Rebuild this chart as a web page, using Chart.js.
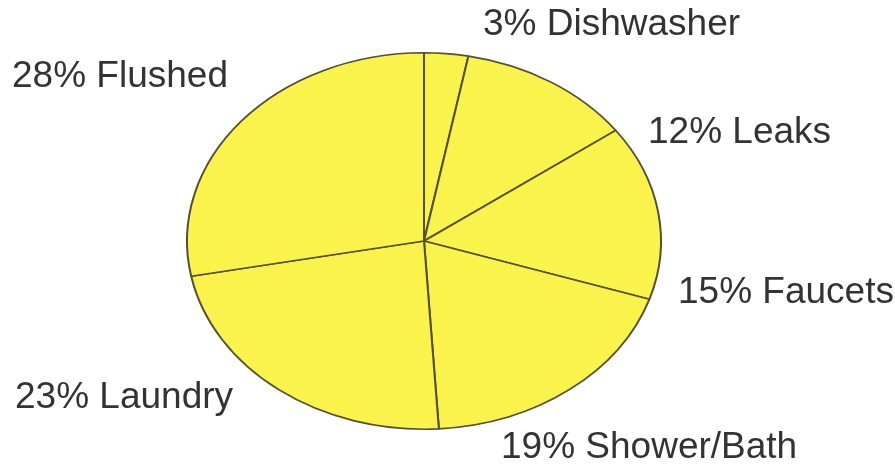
<!DOCTYPE html>
<html>
<head>
<meta charset="utf-8">
<script src="https://cdn.jsdelivr.net/npm/chart.js@4"></script>
<style>
  html, body { margin: 0; padding: 0; background: #fff; }
  canvas { display: block; }
</style>
</head>
<body>
<canvas id="waterChart" width="895" height="465"></canvas>
<script>
// water use breakdown, clockwise from the top
const categories = ["Dishwasher", "Leaks", "Faucets", "Shower/Bath", "Laundry", "Flushed"];
const percents = [3, 12, 15, 19, 23, 28];

// where each label sits (left edge, vertical middle)
const labelSpots = [[483, 25], [648, 133], [678, 293], [501, 448], [15, 398], [12, 77]];

// pie is drawn as a circle then stretched sideways into an ellipse
const stretchX = 238 / 189;

const ellipsePlugin = {
  id: "ellipse",
  beforeDatasetsDraw(chart) {
    const { ctx, chartArea } = chart;
    const cx = (chartArea.left + chartArea.right) / 2;
    ctx.save();
    ctx.translate(cx, 0);
    ctx.scale(stretchX, 1);
    ctx.translate(-cx, 0);
  },
  afterDatasetsDraw(chart) {
    chart.ctx.restore();
  }
};

const labelPlugin = {
  id: "sliceLabels",
  afterDraw(chart) {
    const ctx = chart.ctx;
    ctx.save();
    ctx.font = "37px 'Liberation Sans', Arial, sans-serif";
    ctx.fillStyle = "#333333";
    ctx.textAlign = "left";
    ctx.textBaseline = "middle";
    categories.forEach((name, i) => {
      const [x, y] = labelSpots[i];
      ctx.fillText(percents[i] + "% " + name, x, y);
    });
    ctx.restore();
  }
};

new Chart(document.getElementById("waterChart"), {
  type: "pie",
  data: {
    labels: categories,
    datasets: [{
      data: percents,
      backgroundColor: "#faf34c",
      borderColor: "#545132",
      borderWidth: 1.6
    }]
  },
  options: {
    responsive: false,
    animation: false,
    devicePixelRatio: 1,
    layout: { padding: { left: 235, right: 282, top: 52, bottom: 35 } },
    plugins: { legend: { display: false }, tooltip: { enabled: false } }
  },
  plugins: [ellipsePlugin, labelPlugin]
});
</script>
</body>
</html>
